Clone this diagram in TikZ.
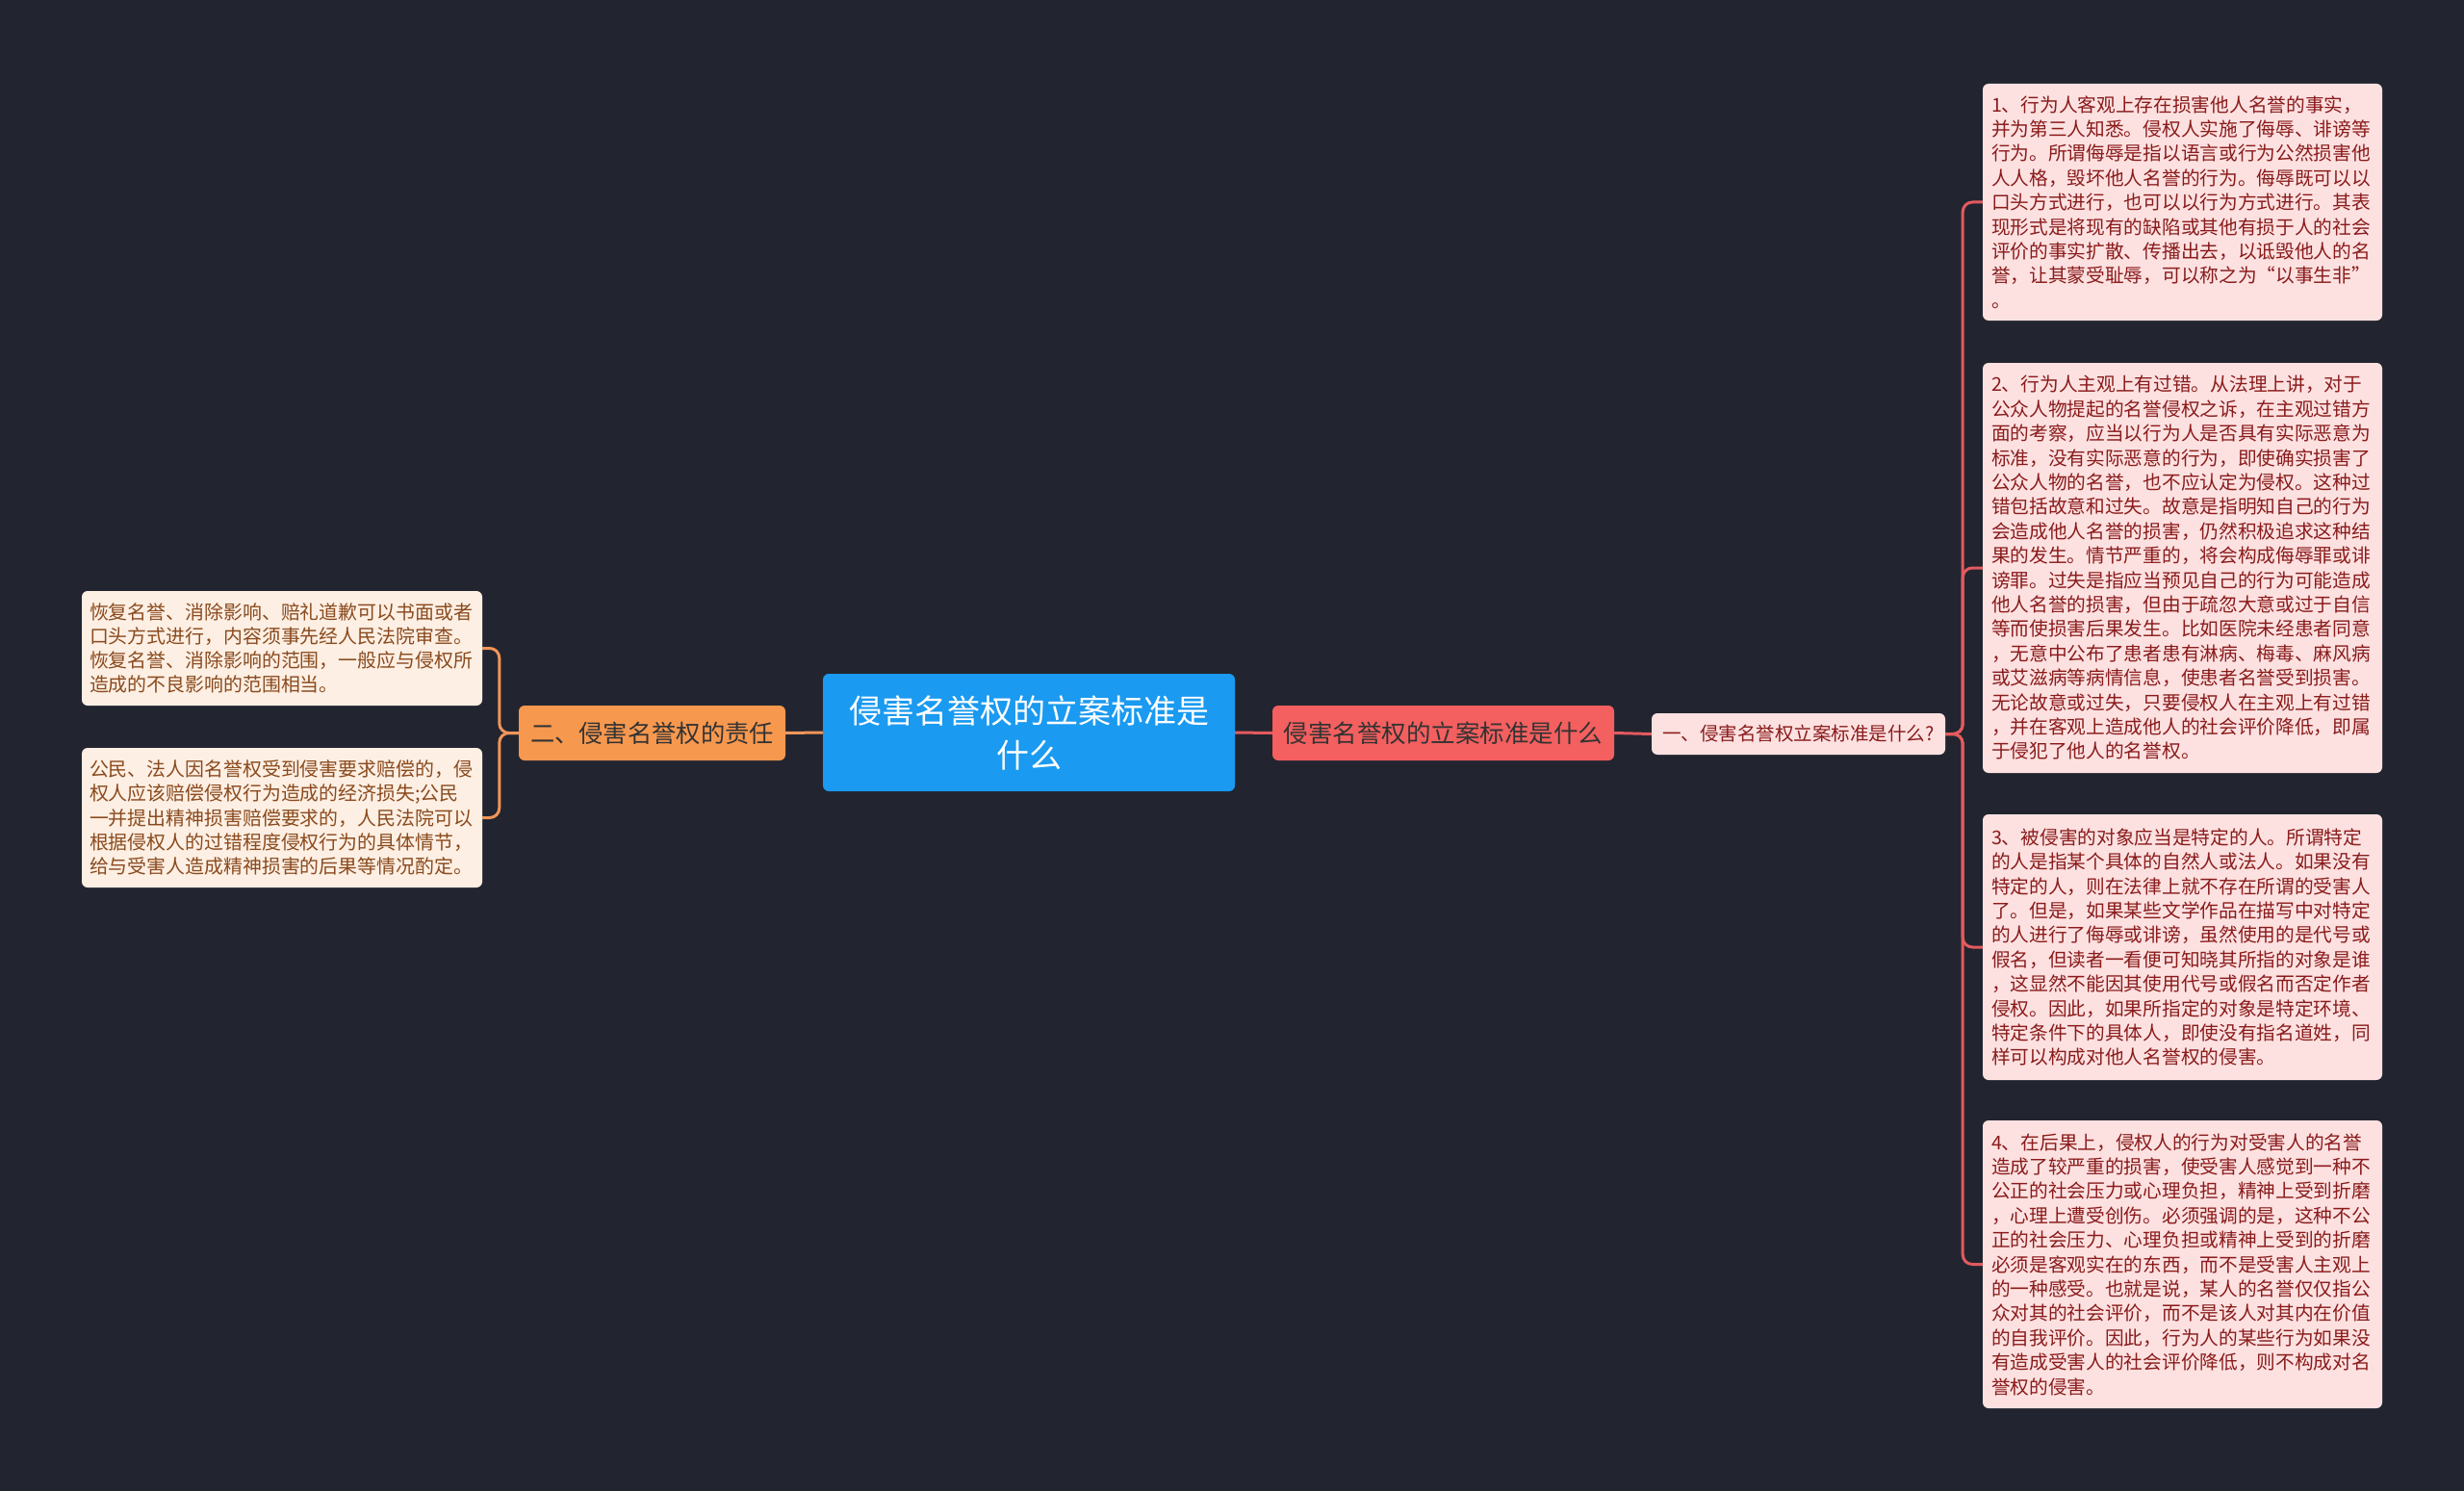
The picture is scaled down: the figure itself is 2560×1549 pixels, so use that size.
\documentclass[tikz,border=0pt]{standalone}
\usepackage{fontspec}
\setmainfont{Noto Sans CJK SC}
\usetikzlibrary{positioning}

\definecolor{bgdark}{HTML}{22252F}
\definecolor{rootblue}{HTML}{1A9AF0}
\definecolor{redfill}{HTML}{F45F5F}
\definecolor{orangefill}{HTML}{F7984F}
\definecolor{pinkfill}{HTML}{FDE1E1}
\definecolor{peachfill}{HTML}{FDEFE3}
\definecolor{redtext}{HTML}{8A1B1B}
\definecolor{browntext}{HTML}{8A4A1E}
\definecolor{redline}{HTML}{E35A5F}
\definecolor{orangeline}{HTML}{F0955A}

\begin{document}
\begin{tikzpicture}[x=1pt, y=-1pt,
    rootbox/.style={fill=rootblue, rounded corners=6pt, text=white, align=center,
        text width=400pt, minimum width=428pt, minimum height=122pt, inner sep=0pt,
        font=\fontsize{34}{46}\selectfont},
    redbox/.style={fill=redfill, rounded corners=6pt, text=black!80, align=center,
        minimum width=355pt, minimum height=57pt, inner sep=0pt,
        font=\fontsize{25.5}{30}\selectfont},
    orangebox/.style={fill=orangefill, rounded corners=6pt, text=black!80, align=center,
        minimum width=277pt, minimum height=57pt, inner sep=0pt,
        font=\fontsize{25.3}{30}\selectfont},
    qbox/.style={fill=pinkfill, rounded corners=6pt, text=redtext, align=center,
        minimum width=305pt, minimum height=43pt, inner sep=0pt,
        font=\fontsize{19.5}{24}\selectfont},
    pinkleaf/.style={fill=pinkfill, rounded corners=6pt, text=redtext, align=left,
        text width=397pt, inner xsep=9pt, inner ysep=0pt, minimum width=415pt,
        font=\fontsize{19.7}{25.4}\selectfont},
    peachleaf/.style={fill=peachfill, rounded corners=6pt, text=browntext, align=left,
        text width=400pt, inner xsep=8pt, inner ysep=0pt, minimum width=416pt,
        font=\fontsize{19.9}{25.2}\selectfont},
    redlink/.style={draw=redline, line width=3pt, rounded corners=10pt},
    orangelink/.style={draw=orangeline, line width=3pt, rounded corners=10pt}]

    \fill[bgdark] (0,0) rectangle (2560,1549);
    \useasboundingbox (0,0) rectangle (2560,1549);

    \node[rootbox] (root) at (1069,761) {侵害名誉权的立案标准是\\什么};
    \node[redbox] (standard) at (1499.5,761.5) {侵害名誉权的立案标准是什么};
    \node[qbox] (question) at (1868.5,762.5) {一、侵害名誉权立案标准是什么?};
    \node[orangebox] (duty) at (677.5,761.5) {二、侵害名誉权的责任};

    \node[pinkleaf, minimum height=246pt] (objective) at (2267.5,210) {%
        1、行为人客观上存在损害他人名誉的事实，\\
        并为第三人知悉。侵权人实施了侮辱、诽谤等\\
        行为。所谓侮辱是指以语言或行为公然损害他\\
        人人格，毁坏他人名誉的行为。侮辱既可以以\\
        口头方式进行，也可以以行为方式进行。其表\\
        现形式是将现有的缺陷或其他有损于人的社会\\
        评价的事实扩散、传播出去，以诋毁他人的名\\
        誉，让其蒙受耻辱，可以称之为“以事生非”\\
        。};
    \node[pinkleaf, minimum height=426pt] (fault) at (2267.5,590) {%
        2、行为人主观上有过错。从法理上讲，对于\\
        公众人物提起的名誉侵权之诉，在主观过错方\\
        面的考察，应当以行为人是否具有实际恶意为\\
        标准，没有实际恶意的行为，即使确实损害了\\
        公众人物的名誉，也不应认定为侵权。这种过\\
        错包括故意和过失。故意是指明知自己的行为\\
        会造成他人名誉的损害，仍然积极追求这种结\\
        果的发生。情节严重的，将会构成侮辱罪或诽\\
        谤罪。过失是指应当预见自己的行为可能造成\\
        他人名誉的损害，但由于疏忽大意或过于自信\\
        等而使损害后果发生。比如医院未经患者同意\\
        ，无意中公布了患者患有淋病、梅毒、麻风病\\
        或艾滋病等病情信息，使患者名誉受到损害。\\
        无论故意或过失，只要侵权人在主观上有过错\\
        ，并在客观上造成他人的社会评价降低，即属\\
        于侵犯了他人的名誉权。};
    \node[pinkleaf, minimum height=276pt] (target) at (2267.5,984) {%
        3、被侵害的对象应当是特定的人。所谓特定\\
        的人是指某个具体的自然人或法人。如果没有\\
        特定的人，则在法律上就不存在所谓的受害人\\
        了。但是，如果某些文学作品在描写中对特定\\
        的人进行了侮辱或诽谤，虽然使用的是代号或\\
        假名，但读者一看便可知晓其所指的对象是谁\\
        ，这显然不能因其使用代号或假名而否定作者\\
        侵权。因此，如果所指定的对象是特定环境、\\
        特定条件下的具体人，即使没有指名道姓，同\\
        样可以构成对他人名誉权的侵害。};
    \node[pinkleaf, minimum height=299pt] (result) at (2267.5,1313.5) {%
        4、在后果上，侵权人的行为对受害人的名誉\\
        造成了较严重的损害，使受害人感觉到一种不\\
        公正的社会压力或心理负担，精神上受到折磨\\
        ，心理上遭受创伤。必须强调的是，这种不公\\
        正的社会压力、心理负担或精神上受到的折磨\\
        必须是客观实在的东西，而不是受害人主观上\\
        的一种感受。也就是说，某人的名誉仅仅指公\\
        众对其的社会评价，而不是该人对其内在价值\\
        的自我评价。因此，行为人的某些行为如果没\\
        有造成受害人的社会评价降低，则不构成对名\\
        誉权的侵害。};

    \node[peachleaf, minimum height=119pt] (apology) at (293,673.5) {%
        恢复名誉、消除影响、赔礼道歉可以书面或者\\
        口头方式进行，内容须事先经人民法院审查。\\
        恢复名誉、消除影响的范围，一般应与侵权所\\
        造成的不良影响的范围相当。};
    \node[peachleaf, minimum height=145pt] (damages) at (293,849.5) {%
        公民、法人因名誉权受到侵害要求赔偿的，侵\\
        权人应该赔偿侵权行为造成的经济损失;公民\\
        一并提出精神损害赔偿要求的，人民法院可以\\
        根据侵权人的过错程度侵权行为的具体情节，\\
        给与受害人造成精神损害的后果等情况酌定。};

    \draw[redlink] (root.east) -- (standard.west);
    \draw[redlink] (standard.east) -- (question.west);
    \foreach \leaf in {objective, fault, target, result}
        \draw[redlink] (question.east) -- ++(18,0) |- (\leaf.west);

    \draw[orangelink] (root.west) -- (duty.east);
    \foreach \leaf in {apology, damages}
        \draw[orangelink] (duty.west) -- ++(-20,0) |- (\leaf.east);
\end{tikzpicture}
\end{document}
